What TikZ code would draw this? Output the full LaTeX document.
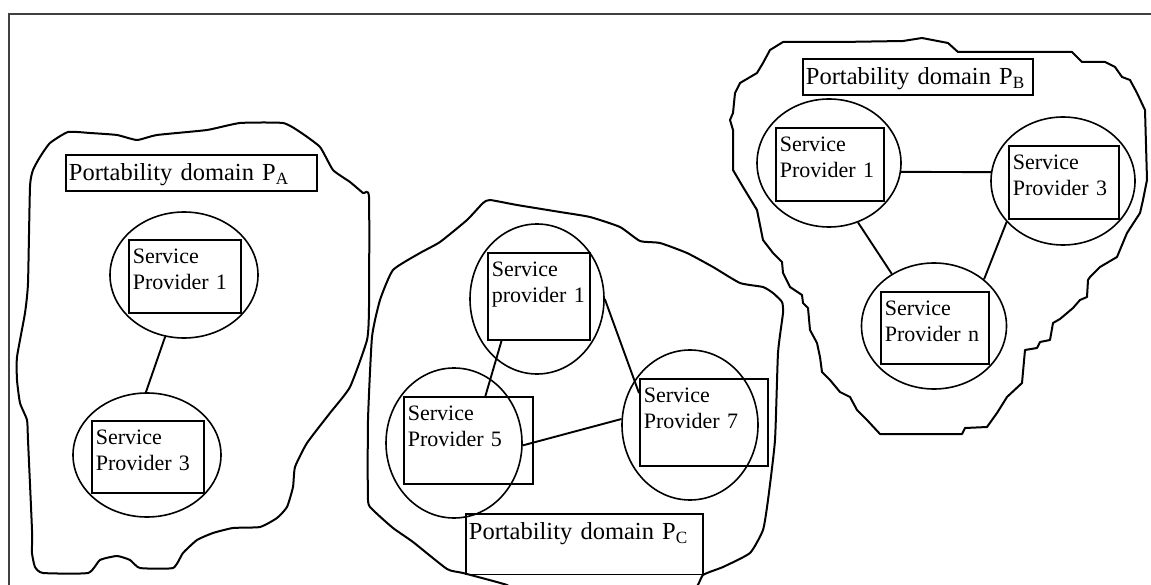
\documentclass[tikz,border=0pt]{standalone}
\usepackage{fontspec}
\setmainfont{Liberation Serif}
\usetikzlibrary{shapes.geometric,calc}

\newcommand{\provfont}{\fontsize{22}{26}\selectfont}
\newcommand{\domfont}{\fontsize{24.5}{29}\selectfont}

\begin{document}
\begin{tikzpicture}[x=1pt,y=-1pt,
    blob/.style={line width=2pt, line join=round},
    sp/.style={draw, ellipse, line width=1.6pt, inner sep=0pt},
    spbox/.style={draw, rectangle, anchor=north west, line width=1.8pt, inner xsep=4pt, inner ysep=0pt,
      align=left, text height=24pt, font=\provfont},
    domlabel/.style={draw, rectangle, anchor=north west, line width=1.8pt, inner xsep=3pt, inner ysep=0pt,
      align=left, text height=25.5pt, font=\domfont},
    link/.style={line width=1.9pt}]
  \useasboundingbox (0,0) rectangle (1151,585);

  % Frame
  \draw[line width=1.4pt, black!75] (1160,14) -- (9,14) -- (9,600);

  % Portability domain A
  \draw[blob] plot[smooth cycle, tension=0.3] coordinates {
    (68,132) (90,133) (117,135) (137,140) (157,135) (207,130) (240,123) (283,123) (300,132)
    (320,147) (333,170) (350,182) (363,193) (369,197) (369,307) (367,340) (350,387) (330,413)
    (307,443) (295,467) (293,487) (287,507) (277,518) (260,527) (233,528) (213,533) (197,540)
    (183,553) (173,568) (140,568) (130,560) (117,556) (100,560) (88,573) (43,573) (35,567)
    (32,553) (32,530) (28,440) (27,420) (20,403) (17,380) (17,357) (25,313) (28,283) (30,187)
    (33,170) (40,157) (50,143)};
  \node[domlabel, text width=245pt, text depth=11pt] (pa) at (65,154) {Portability domain P\textsubscript{A}};
  \node[sp, minimum width=148pt, minimum height=126pt] (a1) at (184,275) {};
  \node[spbox, text width=104pt, text depth=49pt] (a1box) at (128,239) {Service\\Provider 1};
  \node[sp, minimum width=148pt, minimum height=124pt] (a3) at (147,455) {};
  \node[spbox, text width=104pt, text depth=48pt] (a3box) at (91,420) {Service\\Provider 3};
  \draw[link] (a1.253) -- (a3.91);

  % Portability domain C
  \draw[blob] plot[smooth cycle, tension=0.3] coordinates {
    (490,200) (517,205) (560,212) (590,217) (620,227) (640,241) (660,243) (687,253) (713,267)
    (740,283) (763,287) (773,293) (782,302) (783,313) (778,353) (775,440) (768,500) (763,530)
    (750,553) (723,567) (703,575) (690,592) (600,602) (520,594) (507,585) (463,573) (447,569)
    (413,542) (393,528) (373,510) (368,500) (368,420) (372,337) (380,300) (393,270) (420,253)
    (440,242) (467,220) (483,203)};
  \node[sp, minimum width=134pt, minimum height=150pt] (c1) at (537,299) {};
  \node[spbox, text width=94pt, text depth=63pt] (c1box) at (487,252) {Service\\provider 1};
  \node[sp, minimum width=136pt, minimum height=150pt] (c5) at (454,443) {};
  \node[spbox, text width=121pt, text depth=63pt] (c5box) at (403,396) {Service\\Provider 5};
  \node[sp, minimum width=136pt, minimum height=150pt] (c7) at (690,425) {};
  \node[spbox, text width=120pt, text depth=63pt] (c7box) at (639,378) {Service\\Provider 7};
  \node[domlabel, text width=231pt, text depth=35pt] (pc) at (465,513) {Portability domain P\textsubscript{C}};
  \draw[link] ($(c1box.south west)!0.14!(c1box.south east)$) -- ($(c5box.north west)!0.63!(c5box.north east)$);
  \draw[link] (c1.east) -- ($(c7box.north west)!0.17!(c7box.south west)$);
  \draw[link] (c5.358) -- (c7.175);

  % Portability domain B
  \draw[blob] (783,42) -- (840,42) -- (903,41) -- (922,38) -- (948,43) -- (958,52) -- (1072,52)
    -- (1082,62) -- (1105,62) -- (1115,67) -- (1122,77) -- (1130,80) -- (1137,93) -- (1145,110)
    -- (1147,180) -- (1143,200) -- (1140,213) -- (1127,233) -- (1117,257) -- (1100,267) -- (1090,277)
    -- (1088,280) -- (1087,297) -- (1080,300) -- (1073,308) -- (1060,319) -- (1053,323) -- (1050,340)
    -- (1040,342) -- (1037,348) -- (1025,350) -- (1022,383) -- (1007,397) -- (997,413) -- (987,427)
    -- (965,428) -- (962,434) -- (880,434) -- (867,420) -- (857,410) -- (850,397) -- (840,392)
    -- (830,380) -- (822,372) -- (820,357) -- (817,343) -- (810,330) -- (808,308) -- (803,303)
    -- (802,295) -- (790,287) -- (783,273) -- (782,262) -- (773,253) -- (763,240) -- (757,210)
    -- (743,187) -- (733,170) -- (733,130) -- (730,120) -- (733,113) -- (735,93) -- (740,83)
    -- (757,73) -- (763,63) -- (770,50) -- cycle;
  \node[domlabel, text width=224pt, text depth=10.5pt] (pb) at (802,58) {Portability domain P\textsubscript{B}};
  \node[sp, minimum width=144pt, minimum height=128pt] (b1) at (829,163) {};
  \node[spbox, text width=100pt, text depth=49pt] (b1box) at (775,127) {Service\\Provider 1};
  \node[sp, minimum width=144pt, minimum height=128pt] (b3) at (1063,181) {};
  \node[spbox, text width=102pt, text depth=49pt] (b3box) at (1008,145) {Service\\Provider 3};
  \node[sp, minimum width=145pt, minimum height=126pt] (bn) at (934,326) {};
  \node[spbox, text width=100pt, text depth=48pt] (bnbox) at (880,291) {Service\\Provider n};
  \draw[link] (b1.353) -- (b3.173);
  \draw[link] (b1.296) -- (bn.129);
  \draw[link] (b3.216) -- (bn.43);
\end{tikzpicture}
\end{document}
